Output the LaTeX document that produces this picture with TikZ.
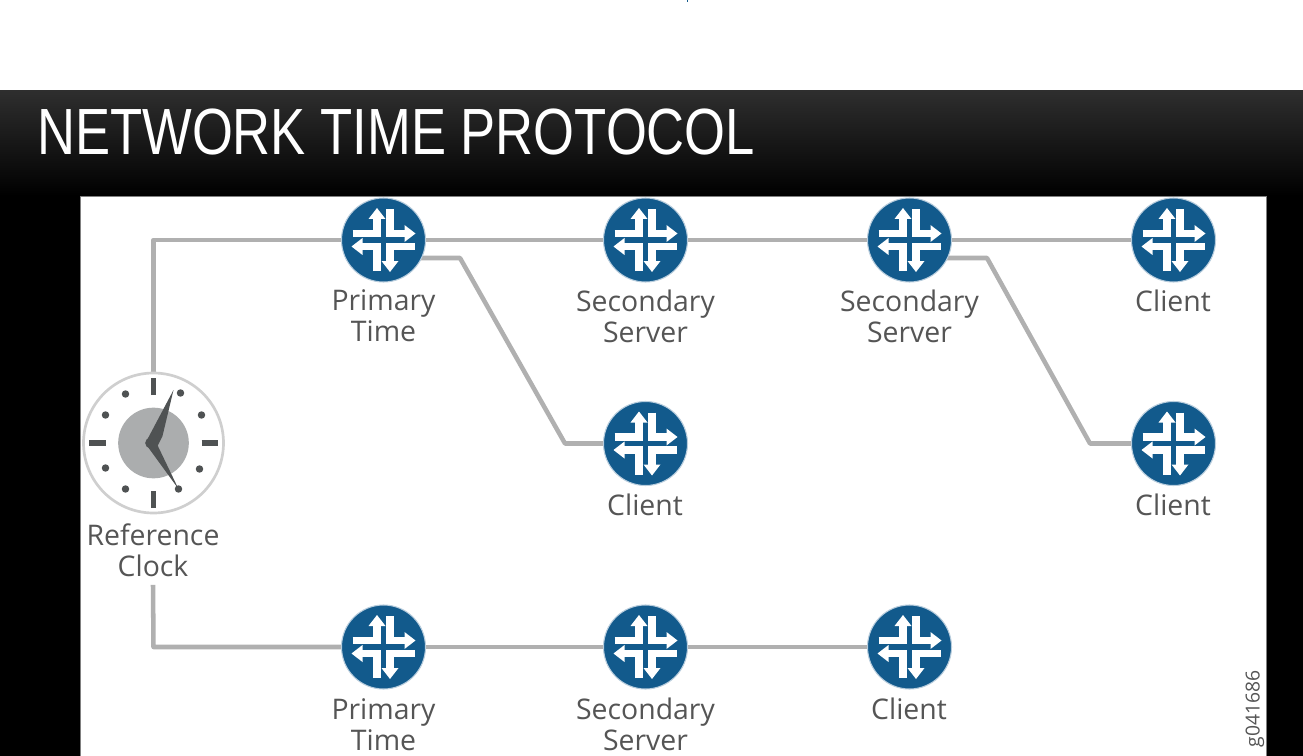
\documentclass[tikz,border=0pt]{standalone}
\usepackage{fontspec}
\setmainfont{Open Sans}
\newfontfamily\titlefont{Liberation Sans}
\usetikzlibrary{backgrounds}
\definecolor{navy}{HTML}{125A8C}
\definecolor{wire}{HTML}{B0B0B0}
\definecolor{labelgray}{HTML}{555555}
\definecolor{handgray}{HTML}{4F5253}
\definecolor{facegray}{HTML}{ABADAE}
\definecolor{ringgray}{HTML}{CFCFCF}
\newcommand{\lshape}[7]{%
  \draw[white,line width=5.8pt,line join=miter] (c)++(#1) -- ++(#2) -- ++(#3);
  \fill[white] (c)++(#4) -- ++(#5) -- ++(#6) -- ++(#7) -- cycle;
}
\tikzset{
  x=0.75pt,y=-0.75pt,
  router/.style={circle,fill=navy,draw=white!70!navy,line width=0.8pt,minimum size=63pt,inner sep=0pt,
    path picture={
      \coordinate (c) at (path picture bounding box.center);
      \lshape{-31,-6.5}{24.5,0}{0,-15}{-15,-21}{8.5,-11}{8.5,11}{-17,0}
      \lshape{6.5,-31}{0,24.5}{15,0}{21,-15}{11,8.5}{-11,8.5}{0,-17}
      \lshape{-6.5,31}{0,-24.5}{-15,0}{-21,15}{-11,-8.5}{11,-8.5}{0,17}
      \lshape{31,6.5}{-24.5,0}{0,15}{15,21}{-8.5,11}{-8.5,-11}{17,0}
    }},
  caption/.style={align=center,text=labelgray,font=\fontsize{21.3}{23.25}\selectfont,inner sep=0pt},
  wireline/.style={draw=wire,line width=3.4pt,line join=round},
  tick/.style={draw=handgray,line width=3.8pt},
  dot/.style={fill=handgray},
  hand/.style={fill=handgray},
}
\begin{document}
\begin{tikzpicture}
\useasboundingbox (0,0) rectangle (1303,756);

% clock
\node[circle,draw=ringgray,fill=white,line width=2pt,minimum size=105pt,inner sep=0pt] (clock) at (153.5,443) {};
\fill[facegray] (clock.center) circle (26.5pt);
\foreach \a in {0,90,180,270}{
  \draw[tick] (clock.center)++(\a:36pt) -- ++(\a:12.5pt);
}
\foreach \dx/\dy in {27/-50,48/-28,46/26,25/46,-28/46,-48/25,-48/-28,-28/-49}{
  \fill[dot] (clock.center)++(\dx,\dy) circle (2.8pt);
}
\fill[hand] (clock.center)++(-3,0) circle (4pt);
\fill[hand] (clock.center)++(-7,-2) -- ++(27,-51) -- ++(-11,46) -- ++(-5,10) -- cycle;
\fill[hand] (clock.center)++(-7,2) -- ++(32,44) -- ++(-23,-48) -- cycle;

% routers
\node[router] (r1) at (383.5,240) {};
\node[router] (r2) at (645.5,240) {};
\node[router] (r3) at (909.5,240) {};
\node[router] (r4) at (1173.5,240) {};
\node[router] (r5) at (645.5,443.5) {};
\node[router] (r6) at (1173.5,443.5) {};
\node[router] (r7) at (383.5,647) {};
\node[router] (r8) at (645.5,647) {};
\node[router] (r9) at (909.5,647) {};

% labels
\node[caption] (l1) at (383.5,316) {Primary\\Time};
\node[caption] (l2) at (645.5,316) {Secondary\\Server};
\node[caption] (l3) at (909.5,316) {Secondary\\Server};
\node[caption] (l4) at (1173,300.5) {Client};
\node[caption] (l5) at (645,504.5) {Client};
\node[caption] (l6) at (1173,504.5) {Client};
\node[caption] (l7) at (383.5,724.5) {Primary\\Time};
\node[caption] (l8) at (645.5,724.5) {Secondary\\Server};
\node[caption] (l9) at (909,708.5) {Client};
\node[caption] (refl) at (153,550) {Reference\\Clock};
\node[rotate=90,text=labelgray,font=\fontsize{14.5}{15}\selectfont,inner sep=0pt] (gid) at (1255,709) {g041686};

% title
\node[anchor=west,text=white,inner sep=0pt,xscale=0.805,font=\titlefont\fontsize{49}{52}\selectfont] (title) at (37,132) {NETWORK TIME PROTOCOL};

\begin{pgfonlayer}{background}
  % slide
  \fill[black] (0,91) rectangle (1303,756);
  \shade[top color=black!82,bottom color=black] (0,91) rectangle (1303,196);
  \fill[navy] (686.5,0.5) rectangle (688,2);
  \fill[white,draw=gray,line width=0.6pt] (80,196) rectangle (1266,756);
  % connectors
  \draw[wireline] (clock.north) -- (153.5,240) -- (r1.center);
  \draw[wireline] (r1.center) -- (r2.center);
  \draw[wireline] (r2.center) -- (r3.center);
  \draw[wireline] (r3.center) -- (r4.center);
  \draw[wireline] (r1.center) ++(30,18) -- (460,258) -- (565,443.5) -- (r5.center);
  \draw[wireline] (r3.center) ++(30,18) -- (987,258) -- (1090,443.5) -- (r6.center);
  \draw[wireline] (refl.south) ++(0,8) -- (153.5,647) -- (r7.center);
  \draw[wireline] (r7.center) -- (r8.center);
  \draw[wireline] (r8.center) -- (r9.center);
\end{pgfonlayer}
\end{tikzpicture}
\end{document}
